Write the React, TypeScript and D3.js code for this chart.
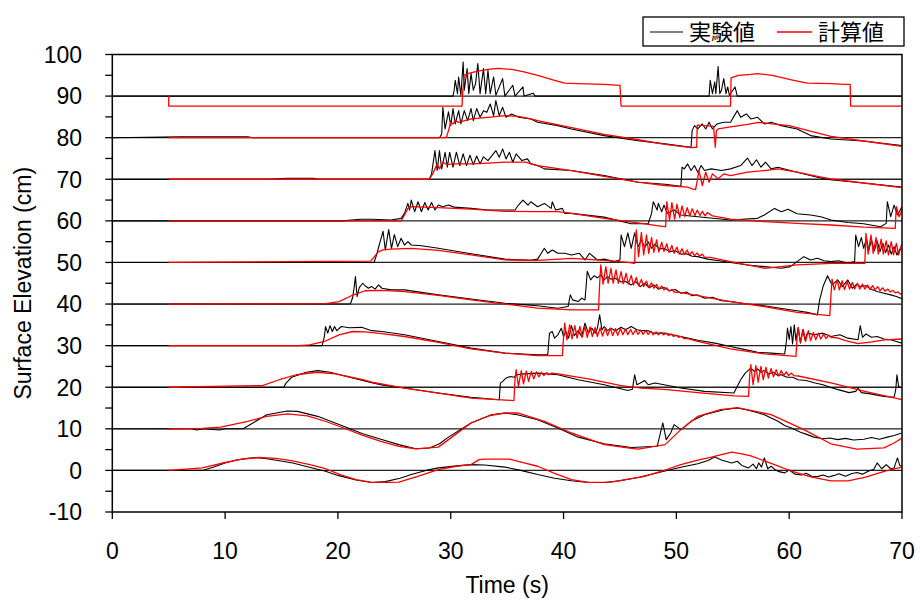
import * as d3 from "d3";

type Pt = [number, number];

// gauge offsets (cm) - each trace is shifted up by this amount
const offsets = [0, 10, 20, 30, 40, 50, 60, 70, 80, 90];

const xTicks = [0, 10, 20, 30, 40, 50, 60, 70];
const yTicks = [-10, 0, 10, 20, 30, 40, 50, 60, 70, 80, 90, 100];
const yMinor = [-5, 5, 15, 25, 35, 45, 55, 65, 75, 85, 95];

// experiment (black), values relative to offset
const exp0: Pt[] = [[0,0],[8,0],[9,0.8],[10,1.8],[11,2.5],[12,2.9],[12.8,3.1],[14,2.7],[16,1.8],[18,0.4],[18.9,-0.2],[20,-1.2],[21.6,-2.3],[23,-2.9],[24.2,-2.7],[25.5,-1.9],[26.5,-1.0],[27.8,0],[28.9,0.6],[30.5,1.1],[31.8,1.4],[33,1.3],[34.8,0.8],[36.2,0],[37.7,-1.0],[39.2,-1.9],[40.7,-2.5],[42.2,-2.9],[43.6,-2.9],[45,-2.5],[46.6,-1.7],[48.9,-0.2],[50.5,0.8],[51.9,1.6],[52.8,2.4],[53.4,3.2],[54,2.5],[54.9,1.8],[55.4,2.2],[55.8,1.2],[56.4,0.6],[56.8,1.5],[57.1,0.4],[57.3,1.8],[57.55,0.8],[57.8,3.0],[58.1,0.4],[58.4,1.0],[58.7,0.3],[59.1,-0.3],[59.6,-0.6],[60.0,0.1],[60.5,-0.9],[61.1,-1.1],[61.5,-0.7],[62,-1.4],[62.5,-1.5],[63,-1.1],[63.5,-1.6],[64,-1.2],[64.4,-0.8],[65,-1.4],[65.5,-0.8],[66,-0.5],[66.5,-0.9],[67,-0.2],[67.5,0.3],[67.8,1.8],[68.2,0.4],[68.6,1.4],[69,0.4],[69.3,0.6],[69.6,3.0],[69.8,1.2],[70,1.0]];
const exp10: Pt[] = [[0,0],[7,0],[7.5,-0.3],[8,0],[9.5,-0.3],[10,0],[11.6,0],[12.2,1.0],[13.7,3.4],[15.5,4.3],[16.4,4.2],[18.2,3.0],[20.5,0.6],[22.2,-1.2],[23.8,-2.5],[25.4,-3.8],[26.9,-4.8],[28.1,-4.6],[29.0,-3.6],[29.8,-2.0],[31.8,1.4],[33.6,3.4],[34.8,3.8],[35.9,3.4],[37.7,2.2],[39.5,0.2],[41.3,-2.0],[43.6,-3.6],[46.0,-4.5],[48.3,-4.2],[48.8,1.4],[49.1,-2.6],[49.5,-1.0],[49.8,1.0],[50.4,-0.2],[51.3,1.8],[52.5,3.4],[54.2,4.6],[55.4,5.0],[56.2,4.6],[56.8,4.2],[57.3,3.8],[57.8,3.4],[58.4,2.6],[59.0,1.8],[59.6,0.8],[60.2,0.2],[61.0,-0.8],[61.6,-1.4],[62.2,-2.0],[63.0,-2.4],[63.6,-2.2],[64.3,-2.6],[65.0,-2.3],[65.7,-2.7],[66.6,-2.5],[67.3,-2.1],[68.0,-2.5],[68.7,-2.0],[69.3,-1.6],[70,-1.0]];
const exp20: Pt[] = [[0,0],[15.2,0],[15.4,1.0],[15.9,2.4],[17.2,3.6],[18.2,4.0],[19.3,3.6],[21.3,2.2],[23,1.1],[24,0.5],[25.9,-0.2],[28.9,-1.4],[31.8,-2.4],[34.3,-3.0],[34.4,1.0],[34.6,1.4],[34.9,2.2],[35.3,2.6],[35.6,2.4],[35.9,3.0],[36.5,3.2],[37.7,3.4],[39.5,3.0],[41.3,1.8],[43.6,0.6],[45.7,-0.8],[46.1,-0.5],[46.3,3.0],[46.5,0.6],[46.8,1.0],[47.2,1.6],[47.5,0.6],[48.1,1.0],[50.4,-0.2],[52.5,-1.0],[55.1,-1.4],[55.7,1.8],[56.1,3.4],[56.6,4.6],[56.9,3.8],[57.2,4.4],[57.5,3.6],[57.8,4.0],[58.2,3.2],[58.6,3.6],[59.0,2.8],[59.3,3.0],[59.8,2.4],[60.3,2.4],[60.8,1.8],[61.5,1.6],[62.3,1.0],[63.0,0.6],[63.8,-0.2],[64.5,-0.7],[65.3,-1.3],[65.9,-1.0],[66.1,-0.2],[66.4,-1.3],[67.2,-1.6],[68.4,-2.2],[69.3,-2.4],[69.45,-0.5],[69.55,3.0],[69.7,0.2],[70,-0.2]];
const exp30: Pt[] = [[0,0],[18.6,0],[18.8,2.2],[18.9,4.6],[19.1,3.0],[19.3,4.8],[19.5,3.4],[19.7,4.6],[19.9,3.6],[20.3,4.6],[21.0,4.3],[22.1,4.4],[23.0,3.6],[23.9,3.4],[25.9,2.6],[28.9,1.0],[31.8,-0.6],[34.8,-1.8],[37.7,-2.2],[38.6,-2.2],[38.75,3.0],[39.0,3.4],[39.2,1.8],[39.5,2.6],[39.8,4.2],[40.0,2.2],[40.2,3.4],[40.45,1.8],[40.7,4.8],[40.95,2.4],[41.3,3.6],[41.6,2.2],[41.9,5.4],[42.2,3.0],[42.5,4.2],[42.8,3.0],[43.0,4.2],[43.2,7.4],[43.4,3.8],[43.6,4.6],[43.9,3.6],[44.2,4.2],[44.6,3.6],[45.1,4.4],[45.5,3.8],[46.0,4.6],[46.5,3.8],[46.9,3.6],[47.5,3.6],[48.0,3.0],[48.9,3.0],[50.4,2.2],[51.9,1.3],[53.4,0.6],[54.8,-0.2],[56.0,-0.9],[57.2,-1.6],[58.4,-1.8],[59.6,-2.0],[59.75,1.0],[59.85,4.2],[60.0,1.5],[60.15,4.6],[60.3,0.4],[60.45,5.0],[60.6,1.2],[60.8,4.4],[61.0,0.6],[61.2,3.8],[61.4,1.4],[61.6,3.0],[62.2,2.6],[63.0,3.0],[63.7,2.2],[64.5,2.6],[65.2,1.8],[66.1,1.4],[66.3,4.8],[66.5,2.0],[66.8,2.8],[67.3,2.0],[67.8,2.2],[68.4,1.6],[69.0,1.4],[69.5,1.0],[70,0.6]];
const exp40: Pt[] = [[0,0],[21.1,0],[21.3,1.5],[21.45,4.2],[21.55,6.6],[21.7,1.8],[21.9,4.0],[22.2,5.0],[22.4,4.4],[22.7,3.8],[23.0,4.2],[23.3,3.6],[23.6,4.6],[23.9,3.8],[24.7,3.4],[25.9,3.4],[28.9,2.2],[31.8,1.2],[34.8,0.2],[36.8,-0.2],[37.7,-0.4],[39.5,-1.0],[40.4,-0.6],[40.6,2.2],[40.8,1.0],[41.3,0.6],[41.6,1.4],[41.9,1.0],[42.0,4.2],[42.1,7.9],[42.4,5.8],[42.7,6.8],[43.0,6.3],[43.3,7.0],[43.6,5.8],[43.9,6.6],[44.2,6.0],[44.6,6.2],[45.1,5.3],[45.5,5.4],[46.0,4.6],[46.4,5.4],[46.8,4.2],[47.2,5.0],[47.6,3.9],[48.0,4.6],[48.4,3.6],[48.9,4.0],[49.4,3.2],[49.9,3.5],[50.4,2.6],[50.9,2.9],[51.4,2.0],[51.9,2.2],[52.5,1.4],[53.2,1.6],[54.0,0.8],[54.8,0.6],[56.3,0],[57.8,-0.4],[59.2,-1.0],[60.7,-1.6],[61.6,-2.0],[62.5,-2.6],[62.7,1.0],[63.0,4.2],[63.4,6.8],[63.8,4.6],[64.3,5.8],[64.7,4.2],[65.2,5.8],[65.6,3.8],[66.0,4.8],[66.3,4.2],[66.8,4.4],[67.3,3.5],[67.8,3.0],[68.4,2.6],[69.0,2.2],[69.5,1.8],[70,1.3]];
const exp50: Pt[] = [[0,0],[23.2,0],[23.4,1.6],[23.7,4.6],[24.0,7.5],[24.2,3.0],[24.5,7.9],[24.75,3.4],[25.0,6.7],[25.3,3.8],[25.6,5.8],[25.9,4.2],[26.2,5.0],[26.5,4.2],[27.4,4.0],[28.9,3.4],[31.8,2.1],[34.8,0.8],[37.1,0.5],[37.7,0.8],[38.3,3.4],[38.6,2.2],[39.0,3.0],[39.5,2.2],[40.1,2.2],[40.7,1.8],[41.4,2.2],[41.9,0.6],[42.3,2.2],[43.0,0.6],[43.6,0.8],[44.5,0.2],[45.0,0.6],[45.1,6.6],[45.4,3.8],[45.7,7.1],[46.0,3.4],[46.3,7.1],[46.6,3.8],[46.9,5.4],[47.2,3.6],[47.5,5.0],[47.8,3.4],[48.1,4.4],[48.5,3.2],[48.9,3.4],[49.4,2.6],[49.9,2.8],[50.4,2.0],[50.9,2.1],[51.4,1.5],[51.9,1.4],[52.8,0.8],[53.8,0.4],[54.8,0],[56.3,-0.6],[57.8,-1.0],[59.3,-1.4],[60.1,-1.0],[60.7,0.2],[61.3,1.4],[61.9,0.6],[62.5,1.0],[63.1,0.4],[63.7,0.2],[64.4,0.4],[65.2,-0.2],[65.8,0.2],[65.9,6.6],[66.15,3.8],[66.4,6.0],[66.6,3.4],[66.85,5.8],[67.05,3.0],[67.3,5.4],[67.55,2.8],[67.8,5.2],[68.05,2.6],[68.3,4.6],[68.55,2.4],[68.8,4.2],[69.05,2.0],[69.3,3.8],[69.55,1.8],[69.8,3.2],[70,3.0]];
const exp60: Pt[] = [[0,0],[20.4,0],[22,0.4],[23.0,0.4],[24.7,0.2],[25.6,0.6],[25.9,1.8],[26.2,4.2],[26.35,2.6],[26.5,5.0],[26.8,2.2],[27.1,4.6],[27.4,2.2],[27.7,4.4],[28.0,2.6],[28.3,4.4],[28.6,2.6],[28.9,3.8],[29.3,3.4],[29.8,3.8],[30.3,3.3],[31.8,3.0],[33.3,2.6],[34.8,2.6],[35.7,2.6],[36.0,3.8],[36.4,5.0],[36.85,3.8],[37.1,4.6],[37.7,3.4],[38.3,4.2],[38.9,3.0],[39.0,4.6],[39.3,2.6],[39.9,3.0],[40.1,1.8],[40.7,1.8],[43.6,0.9],[46.0,-0.7],[47.5,-0.7],[47.8,1.8],[47.95,4.6],[48.3,2.6],[48.4,4.2],[48.7,2.2],[48.9,3.8],[49.2,1.8],[49.8,2.6],[50.4,1.4],[51.9,1.0],[54.8,0.2],[57.2,0.6],[57.8,1.4],[58.7,3.0],[59.3,2.2],[59.9,2.8],[60.7,1.7],[61.9,1.4],[62.8,1.0],[63.7,0.2],[65.2,-0.4],[66.6,-0.7],[68.1,-1.4],[68.6,-0.6],[68.7,4.6],[69.0,1.0],[69.3,3.8],[69.6,1.4],[70,3.4]];
const exp70: Pt[] = [[0,0],[14,0],[15.5,0.25],[17.8,0.25],[18.2,0],[28.1,0],[28.3,1.3],[28.6,6.9],[28.8,2.1],[29.0,6.9],[29.2,2.5],[29.5,6.5],[29.7,2.9],[29.9,6.5],[30.2,2.9],[30.5,6.5],[30.8,3.3],[31.1,6.1],[31.4,3.3],[31.7,5.8],[32.0,3.5],[32.3,5.6],[32.6,3.7],[32.9,5.4],[33.3,4.5],[34.0,6.9],[34.3,5.3],[34.6,7.3],[34.9,4.9],[35.2,6.5],[35.5,4.1],[35.8,6.1],[36.3,4.5],[36.8,4.9],[37.1,3.7],[37.7,3.3],[38.3,2.5],[40.7,2.1],[43.6,0.9],[46.6,-0.7],[49.0,-1.2],[50.4,-1.7],[50.5,2.9],[50.7,2.5],[51.0,3.7],[51.3,2.1],[51.6,3.3],[51.9,1.7],[52.2,3.3],[52.5,2.1],[53.1,2.5],[54.0,2.1],[54.8,2.5],[55.7,3.3],[56.3,5.1],[56.7,3.3],[57.1,4.7],[57.5,2.9],[57.9,4.1],[58.4,2.5],[59.0,2.9],[60.7,1.7],[62.5,0.5],[63.6,-0.1],[66.6,-0.9],[70,-1.9]];
const exp80: Pt[] = [[0,0],[6,0.2],[12,0.2],[12.5,0],[29.0,0],[29.2,0.9],[29.3,7.3],[29.5,2.1],[29.8,6.2],[30.0,2.9],[30.2,7.0],[30.4,3.3],[30.7,6.5],[30.9,3.3],[31.2,6.5],[31.5,4.1],[31.8,7.0],[32.0,4.1],[32.3,7.0],[32.6,4.9],[32.9,6.5],[33.2,6.1],[33.5,8.1],[33.8,5.3],[34.0,8.9],[34.3,5.3],[34.6,7.3],[34.9,4.9],[35.4,5.7],[36.0,4.9],[37.1,4.5],[37.7,3.7],[39.5,2.9],[40.7,2.1],[43.6,0.5],[46.6,-0.7],[49.0,-1.5],[51.3,-2.3],[51.4,1.7],[51.6,2.9],[51.9,2.1],[52.3,3.3],[52.6,2.1],[52.9,3.7],[53.2,2.1],[53.6,3.3],[54.2,3.7],[54.8,3.7],[55.4,6.5],[55.7,4.9],[56.2,5.7],[56.6,4.5],[57.2,4.9],[57.8,3.3],[58.4,3.7],[59.3,2.9],[60.7,2.1],[61.9,0.5],[63.7,-0.3],[66.6,-0.8],[70,-1.9]];
const exp90: Pt[] = [[0,0],[30.2,0],[30.3,1.4],[30.4,3.8],[30.6,0.6],[30.7,4.6],[30.9,0.2],[31.1,8.2],[31.2,1.4],[31.45,6.6],[31.6,0.6],[31.8,5.4],[32.0,1.4],[32.2,3.0],[32.4,7.8],[32.6,0.6],[32.9,6.6],[33.1,0.6],[33.3,6.2],[33.5,0.6],[33.8,4.6],[34.0,0.2],[34.6,4.2],[34.8,0],[35.5,2.6],[35.7,0],[36.4,2.2],[36.5,0],[37.3,0.7],[37.5,0],[52.9,0],[53.0,3.8],[53.2,0.6],[53.4,3.4],[53.5,0.6],[53.7,7.1],[53.85,0.6],[54.0,1.4],[54.2,4.2],[54.4,0.6],[54.55,2.2],[54.7,0.2],[55.2,2.2],[55.4,0],[70,0]];

// calculation (red), values relative to offset
const calc0: Pt[] = [[5,0],[6.5,0.3],[8,0.6],[10,1.9],[11.5,2.7],[13,3.1],[14.5,2.9],[16,2.3],[17.5,1.4],[18.9,0.4],[20.2,-1.0],[21.6,-2.2],[23.0,-2.9],[24.5,-2.9],[25.4,-2.8],[27,-1.5],[28.9,0.2],[30.5,1.0],[31.8,1.4],[32.5,2.6],[33,2.7],[35.2,2.7],[36.5,1.8],[37.7,1.0],[39.2,-0.7],[40.7,-2.2],[42.2,-2.9],[44.2,-2.8],[46,-2.0],[47.1,-1.5],[48.7,-0.2],[50.4,1.4],[51.8,2.4],[53.1,3.2],[54.9,4.4],[55.8,4.0],[56.6,3.5],[57.6,2.5],[58.7,1.4],[60.2,-0.2],[62,-1.6],[63.7,-2.5],[65.2,-2.5],[66.7,-1.7],[68.5,-0.2],[70,0.8]];
const calc10: Pt[] = [[5,0],[8,0.1],[9.6,0.4],[12,1.8],[13.7,3.0],[15.5,3.6],[17.3,3.1],[19,1.7],[20.5,0.2],[22.2,-1.6],[23.8,-3.0],[25.4,-4.2],[26.9,-4.8],[28.9,-4.4],[30.1,-2.0],[31.8,1.4],[33.5,3.2],[34.8,3.8],[36,3.8],[38.3,1.8],[40.7,-1.0],[43.6,-3.8],[46.0,-4.7],[46.6,-4.9],[49.0,-3.8],[50.4,-0.2],[51.9,3.0],[53.9,4.6],[55.4,5.1],[58.4,3.4],[61.3,-0.2],[63.7,-3.6],[66.0,-4.9],[68.4,-4.6],[69.3,-3.4],[70,-2.2]];
const calc20: Pt[] = [[5,0],[13.3,0.4],[14.8,1.8],[16.3,3.0],[18.1,3.6],[19.8,3.2],[22.2,1.8],[23.0,1.2],[25.9,-0.2],[28.9,-1.4],[31.8,-2.6],[35.6,-3.2],[35.7,2.0],[35.8,4.2],[36.0,0.2],[36.25,4.0],[36.45,0.8],[36.7,3.9],[36.9,1.4],[37.15,3.8],[37.35,2.0],[37.6,3.7],[37.8,2.5],[38.05,3.6],[38.25,2.8],[38.5,3.5],[38.7,3.0],[38.95,3.4],[39.5,3.2],[42.2,2.0],[45.1,0.4],[46.9,-0.2],[48.9,-0.5],[51.9,-1.3],[55.1,-2.1],[56.4,-2.2],[56.5,3.0],[56.6,5.4],[56.8,0.6],[57.05,5.2],[57.25,1.2],[57.5,5.0],[57.7,1.8],[57.95,4.8],[58.15,2.2],[58.4,4.5],[58.6,2.5],[58.85,4.2],[59.05,2.7],[59.3,4.0],[59.5,2.8],[59.75,3.7],[59.95,2.8],[60.2,3.4],[60.4,2.8],[60.8,2.7],[63.8,1.0],[66.7,-1.0],[70,-3.0]];
const calc30: Pt[] = [[5,0],[16.5,0],[17.5,0.2],[18.8,1.0],[20.1,2.6],[21.3,3.4],[22.4,3.3],[23.9,2.9],[25.9,2.2],[28.9,0.8],[31.8,-0.8],[34.8,-1.8],[37.7,-2.4],[39.9,-2.4],[40.0,2.0],[40.1,5.4],[40.3,1.4],[40.55,5.0],[40.75,1.6],[41.0,4.8],[41.2,1.8],[41.45,4.6],[41.65,2.0],[41.9,4.6],[42.1,2.0],[42.35,4.5],[42.55,2.2],[42.8,4.4],[43.0,2.2],[43.25,4.3],[43.45,2.3],[43.7,4.2],[43.9,2.4],[44.15,4.2],[44.35,2.4],[44.6,4.1],[44.8,2.5],[45.05,4.1],[45.25,2.6],[45.5,4.0],[45.7,2.6],[45.95,3.9],[46.15,2.7],[46.4,3.8],[46.6,2.7],[46.85,3.7],[47.05,2.7],[47.3,3.6],[47.5,2.7],[47.75,3.5],[47.95,2.6],[48.2,3.3],[48.4,2.6],[48.65,3.2],[48.85,2.6],[49.1,3.0],[49.3,2.4],[49.55,2.8],[49.75,2.2],[50.0,2.5],[50.2,2.0],[50.45,2.2],[50.65,1.7],[51.0,1.7],[51.9,1.0],[54.8,-0.8],[57.8,-2.0],[60.6,-2.6],[60.7,2.0],[60.8,4.2],[61.0,0.8],[61.25,3.9],[61.45,1.0],[61.7,3.6],[61.9,1.2],[62.15,3.2],[62.35,1.4],[62.6,3.0],[62.8,1.6],[63.05,2.8],[63.25,1.7],[63.5,2.5],[63.7,2.0],[64.2,1.9],[65.0,1.2],[66.1,0.5],[67.3,0.9],[68.5,1.4],[70,1.6]];
const calc40: Pt[] = [[5,0],[18.9,0.1],[20.1,0.6],[21.2,2.0],[22.4,3.2],[23.9,3.3],[25.9,3.0],[28.9,2.1],[31.8,1.0],[34.8,0],[37.7,-1.0],[40.7,-1.4],[43.1,-1.4],[43.2,5.0],[43.3,9.4],[43.5,4.8],[43.75,9.0],[43.95,5.0],[44.2,8.6],[44.4,5.0],[44.65,8.2],[44.85,5.0],[45.1,7.8],[45.3,4.9],[45.55,7.4],[45.75,4.8],[46.0,6.9],[46.2,4.6],[46.45,6.4],[46.65,4.4],[46.9,5.9],[47.1,4.2],[47.35,5.5],[47.55,4.0],[47.8,5.1],[48.0,3.8],[48.25,4.7],[48.45,3.6],[48.7,4.3],[48.9,3.4],[49.15,3.9],[49.35,3.1],[49.6,3.5],[49.8,2.9],[50.3,2.8],[51.9,2.0],[54.8,0.6],[57.8,-0.6],[60.7,-2.0],[63.6,-2.8],[63.7,2.0],[63.8,6.0],[64.0,3.4],[64.25,5.8],[64.45,3.4],[64.7,5.6],[64.9,3.5],[65.15,5.4],[65.35,3.6],[65.6,5.2],[65.8,3.6],[66.05,5.0],[66.25,3.6],[66.5,4.8],[66.7,3.6],[66.95,4.6],[67.15,3.5],[67.4,4.4],[67.6,3.4],[67.85,4.2],[68.05,3.2],[68.3,3.9],[68.5,3.1],[68.75,3.6],[68.95,2.9],[69.2,3.3],[69.4,2.7],[69.65,2.9],[69.85,2.4],[70,2.4]];
const calc50: Pt[] = [[5,0],[22.9,0.3],[23.6,2.6],[24.0,3.0],[24.7,3.2],[26.5,3.4],[28.9,2.9],[31.8,1.8],[34.8,0.6],[37.7,0.5],[40.7,1.0],[43.6,0.5],[45.7,0],[46.3,-0.2],[46.35,4.0],[46.45,7.8],[46.65,1.4],[46.9,7.2],[47.1,1.8],[47.35,6.6],[47.55,2.2],[47.8,6.0],[48.0,2.4],[48.25,5.4],[48.45,2.5],[48.7,4.9],[48.9,2.6],[49.15,4.5],[49.35,2.4],[49.6,4.1],[49.8,2.2],[50.05,3.7],[50.25,2.0],[50.5,3.3],[50.7,1.9],[50.95,3.0],[51.15,1.8],[51.4,2.6],[51.6,1.6],[51.85,2.3],[52.05,1.5],[52.3,2.0],[52.5,1.3],[53.0,1.2],[54.8,0.2],[57.8,-1.4],[60.7,-0.6],[63.7,-0.2],[66.7,-0.2],[66.75,3.0],[66.8,7.0],[67.0,2.0],[67.25,6.6],[67.45,2.2],[67.7,6.0],[67.9,2.0],[68.15,5.6],[68.35,2.0],[68.6,5.2],[68.8,1.8],[69.05,5.0],[69.25,1.8],[69.5,4.6],[69.7,1.8],[69.95,4.2],[70,3.8]];
const calc60: Pt[] = [[5,0],[25.6,0],[25.9,1.4],[26.2,3.0],[26.5,3.4],[28.9,3.2],[31.8,2.8],[34.8,2.3],[37.7,2.2],[39.5,2.2],[40.7,1.8],[43.6,0.6],[46.9,-0.6],[48.9,-1.4],[49.05,-1.4],[49.1,2.0],[49.15,4.6],[49.4,0.2],[49.6,4.4],[49.85,0.4],[50.05,4.0],[50.3,0.8],[50.5,3.6],[50.75,1.0],[50.95,3.2],[51.2,1.2],[51.4,2.9],[51.65,1.3],[51.85,2.6],[52.1,1.3],[52.3,2.3],[52.55,1.2],[52.75,2.0],[53.2,1.2],[54.8,0.4],[57.8,-0.2],[60.7,-0.6],[63.7,-1.0],[66.6,-1.5],[69.4,-1.8],[69.45,1.0],[69.5,3.4],[69.75,1.0],[70,2.6]];
const calc70: Pt[] = [[5,0],[28.1,0],[28.4,1.3],[28.8,3.7],[29.0,2.5],[29.3,4.1],[29.6,3.6],[30.5,3.7],[31.8,3.7],[33.3,3.9],[34.8,4.1],[36.6,4.1],[37.7,3.3],[40.7,2.1],[43.6,0.7],[46.6,-0.7],[49.0,-1.5],[51.0,-1.9],[51.4,-2.3],[51.7,-2.5],[51.8,-1.1],[52.0,2.1],[52.3,-1.5],[52.6,1.7],[52.9,-0.7],[53.2,1.3],[53.7,0.1],[54.2,1.3],[54.8,0.9],[56.3,1.7],[57.8,2.1],[59.0,2.5],[60.7,1.7],[62.5,0.7],[63.7,0.1],[66.6,-0.9],[70,-2.0]];
const calc80: Pt[] = [[5,0],[29.6,0],[29.8,1.7],[30.0,3.7],[30.2,3.3],[30.4,4.1],[30.7,3.7],[31.8,4.5],[33.3,4.9],[34.8,5.3],[36.0,5.1],[37.1,4.5],[37.7,4.1],[40.7,2.4],[43.6,0.8],[46.6,-0.5],[49.0,-1.6],[51.3,-2.4],[51.8,-2.3],[51.85,3.0],[53.3,2.7],[53.45,-2.3],[53.55,1.7],[53.7,2.1],[54.8,2.6],[56.3,3.2],[57.3,3.7],[58.5,3.3],[60.0,2.9],[61.7,1.7],[63.7,0.3],[66.6,-0.8],[70,-2.1]];
const calc90: Pt[] = [[5,0],[5,-2.4],[31.0,-2.4],[31.05,0.6],[31.2,5.0],[31.5,5.4],[32.4,6.0],[33.3,6.4],[34.2,6.65],[35.4,6.4],[36.5,5.8],[37.7,5.0],[39.2,3.8],[40.1,3.1],[41.3,3.0],[43.6,2.8],[45.0,2.6],[45.1,-2.4],[54.8,-2.4],[54.85,4.4],[55.5,5.0],[56.6,5.2],[57.2,5.4],[58.5,5.0],[60.2,3.9],[61.6,3.1],[63.7,3.0],[64.9,2.8],[65.4,2.8],[65.45,-2.4],[70,-2.4]];

const expSeries = [exp0, exp10, exp20, exp30, exp40, exp50, exp60, exp70, exp80, exp90];
const calcSeries = [calc0, calc10, calc20, calc30, calc40, calc50, calc60, calc70, calc80, calc90];

const W = 920;
const H = 603;
const FONT = "'Liberation Sans', Arial, sans-serif";

export default function App() {
  const x = d3.scaleLinear().domain([0, 70]).range([112.3, 902]);
  const y = d3.scaleLinear().domain([-10, 100]).range([512, 54.5]);
  const [x0, x1] = x.range();
  const [yb, yt] = y.range();

  const lineFor = (off: number) =>
    d3.line<Pt>()
      .x((d) => x(d[0]))
      .y((d) => y(d[1] + off));

  return (
    <svg width={W} height={H} style={{ position: "absolute", left: 0, top: 0, background: "#fff" }}>
      <defs>
        <clipPath id="plot">
          <rect x={x0} y={yt} width={x1 - x0} height={yb - yt} />
        </clipPath>
      </defs>

      {/* baselines for each gauge */}
      {offsets.map((o) => (
        <line key={"g" + o} x1={x0} x2={x1} y1={y(o)} y2={y(o)} stroke="#222" strokeWidth={1.3} />
      ))}

      <g clipPath="url(#plot)" fill="none" strokeLinejoin="round">
        {expSeries.map((s, i) => (
          <path key={"e" + i} d={lineFor(offsets[i])(s) ?? ""} stroke="#000" strokeWidth={1.1} />
        ))}
        {calcSeries.map((s, i) => (
          <path key={"c" + i} d={lineFor(offsets[i])(s) ?? ""} stroke="#ff0000" strokeWidth={1.3} />
        ))}
      </g>

      {/* frame */}
      <rect x={x0} y={yt} width={x1 - x0} height={yb - yt} fill="none" stroke="#000" strokeWidth={1.5} />

      {/* y axis */}
      {yTicks.map((t) => (
        <g key={"yt" + t}>
          <line x1={x0 - 7} x2={x0} y1={y(t)} y2={y(t)} stroke="#000" strokeWidth={1.3} />
          <text x={82} y={y(t)} dy="0.36em" textAnchor="end" fontSize={23} fontFamily={FONT} fill="#000">
            {t}
          </text>
        </g>
      ))}
      {yMinor.map((t) => (
        <line key={"ym" + t} x1={x0 - 7} x2={x0} y1={y(t)} y2={y(t)} stroke="#000" strokeWidth={1.3} />
      ))}

      {/* x axis */}
      {xTicks.map((t) => (
        <g key={"xt" + t}>
          <line x1={x(t)} x2={x(t)} y1={yb} y2={yb + 7} stroke="#000" strokeWidth={1.3} />
          <text x={x(t)} y={559} textAnchor="middle" fontSize={23} fontFamily={FONT} fill="#000">
            {t}
          </text>
        </g>
      ))}

      <text x={(x0 + x1) / 2} y={593} textAnchor="middle" fontSize={23} fontFamily={FONT} fill="#000">
        Time (s)
      </text>
      <text
        transform={`translate(31,${(yt + yb) / 2}) rotate(-90)`}
        textAnchor="middle"
        fontSize={23}
        fontFamily={FONT}
        fill="#000"
      >
        Surface Elevation (cm)
      </text>

      {/* legend */}
      <g>
        <rect x={643} y={17} width={261} height={29} fill="#fff" stroke="#000" strokeWidth={1.3} />
        <line x1={650} x2={683} y1={32} y2={32} stroke="#000" strokeWidth={1.1} />
        <text x={689} y={32} dy="0.36em" fontSize={22} fontFamily="'Noto Sans CJK JP', sans-serif" fill="#000">
          実験値
        </text>
        <line x1={777} x2={812} y1={32} y2={32} stroke="#ff0000" strokeWidth={1.3} />
        <text x={818} y={32} dy="0.36em" fontSize={22} fontFamily="'Noto Sans CJK JP', sans-serif" fill="#000">
          計算値
        </text>
      </g>
    </svg>
  );
}
